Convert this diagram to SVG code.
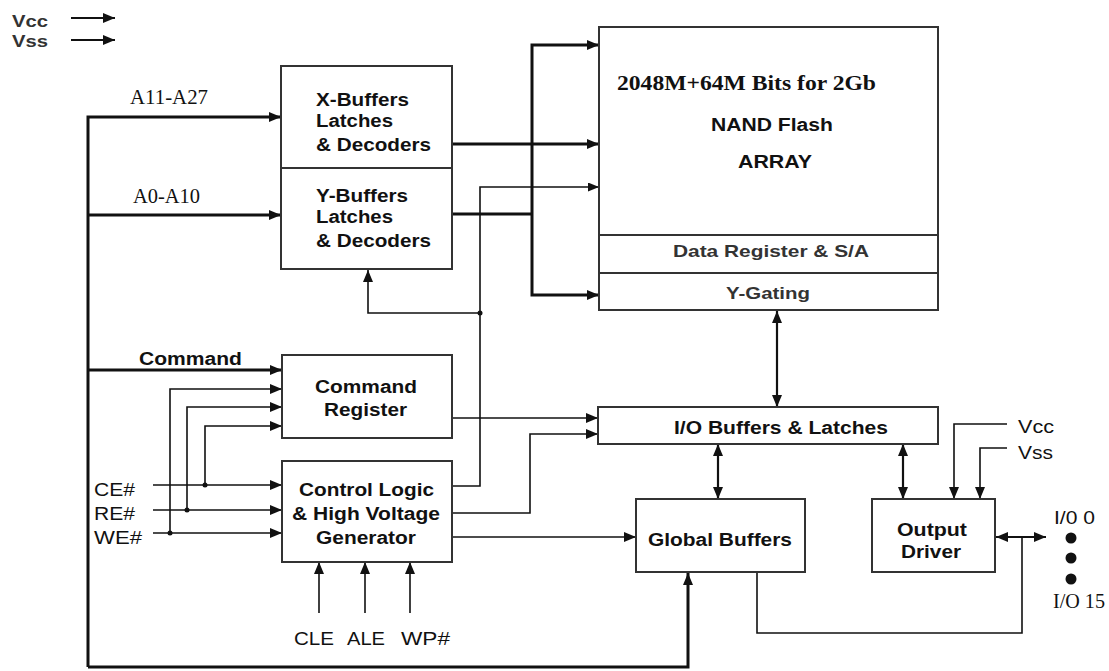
<svg xmlns="http://www.w3.org/2000/svg" width="1109" height="671" viewBox="0 0 1109 671">
<defs>
<style>
.box{fill:#fff;stroke:#333;stroke-width:2}
.sep{stroke:#333;stroke-width:2;fill:none}
.thick{stroke:#111;stroke-width:3;fill:none}
.thin{stroke:#111;stroke-width:1.6;fill:none}
.mid{stroke:#111;stroke-width:2.2;fill:none}
.b{font-family:"Liberation Sans",Arial,sans-serif;font-weight:bold;font-size:18px;fill:#111}
.g{font-family:"Liberation Sans",Arial,sans-serif;font-weight:bold;font-size:17px;fill:#333}
.r{font-family:"Liberation Sans",Arial,sans-serif;font-size:19px;fill:#111}
.s{font-family:"Liberation Serif","Times New Roman",serif;font-size:21px;fill:#111}
.sb{font-family:"Liberation Serif","Times New Roman",serif;font-weight:bold;font-size:22px;fill:#111}
.c{text-anchor:middle}
</style>
<marker id="ah" markerUnits="userSpaceOnUse" markerWidth="12" markerHeight="10" refX="12" refY="5" orient="auto-start-reverse"><path d="M0,0 L12,5 L0,10 z" fill="#111"/></marker>
<marker id="as" markerUnits="userSpaceOnUse" markerWidth="11" markerHeight="9" refX="11" refY="4.5" orient="auto-start-reverse"><path d="M0,0 L11,4.5 L0,9 z" fill="#111"/></marker>
</defs>
<rect width="1109" height="671" fill="#fff"/>

<g id="power-legend">
<text x="12" y="27" class="g" fill="#444" textLength="36" lengthAdjust="spacingAndGlyphs">Vcc</text>
<text x="12" y="47" class="g" fill="#444" textLength="36" lengthAdjust="spacingAndGlyphs">Vss</text>
</g>

<g id="connectors">
<path class="mid" d="M71,18 H115" marker-end="url(#ah)"/>
<path class="mid" d="M71,40 H115" marker-end="url(#ah)"/>
<path class="thick" d="M88,667 V117 H281" marker-end="url(#ah)"/>
<path class="thick" d="M88,215 H281" marker-end="url(#ah)"/>
<path class="thick" d="M88,370 H282" marker-end="url(#ah)"/>
<path class="thick" d="M88,667 H688 V573" marker-end="url(#ah)"/>
<path class="thick" d="M452,144 H599" marker-end="url(#ah)"/>
<path class="thick" d="M599,45 H532 V295 H599" marker-start="url(#ah)" marker-end="url(#ah)"/>
<path class="thick" d="M452,214 H532"/>
<path class="thin" d="M452,486 H480 V187 H599" marker-end="url(#as)"/>
<path class="thin" d="M480,313 H368 V270" marker-end="url(#ah)"/>
<circle cx="480" cy="313" r="2.5" fill="#111"/>
<path class="thin" d="M452,418 H598" marker-end="url(#ah)"/>
<path class="thin" d="M452,513 H530 V434 H598" marker-end="url(#ah)"/>
<path class="thin" d="M452,537 H636" marker-end="url(#ah)"/>
<path class="thin" d="M153,485 H282" marker-end="url(#ah)"/>
<path class="thin" d="M153,510 H282" marker-end="url(#ah)"/>
<path class="thin" d="M153,533 H282" marker-end="url(#ah)"/>
<path class="thin" d="M205,485 V426 H282" marker-end="url(#ah)"/>
<path class="thin" d="M187,510 V407 H282" marker-end="url(#ah)"/>
<path class="thin" d="M170,533 V389 H282" marker-end="url(#ah)"/>
<circle cx="205" cy="485" r="2.5" fill="#111"/>
<circle cx="187" cy="510" r="2.5" fill="#111"/>
<circle cx="170" cy="533" r="2.5" fill="#111"/>
<path class="thin" d="M319,613 V562" marker-end="url(#ah)"/>
<path class="thin" d="M365,613 V562" marker-end="url(#ah)"/>
<path class="thin" d="M410,613 V562" marker-end="url(#ah)"/>
<path class="mid" d="M777,311 V407" marker-start="url(#ah)" marker-end="url(#ah)"/>
<path class="mid" d="M718,444 V499" marker-start="url(#ah)" marker-end="url(#ah)"/>
<path class="mid" d="M903,444 V499" marker-start="url(#ah)" marker-end="url(#ah)"/>
<path class="thin" d="M1007,424 H954 V499" marker-end="url(#ah)"/>
<path class="thin" d="M1007,448 H980 V499" marker-end="url(#ah)"/>
<path class="mid" d="M996,537 H1046" marker-start="url(#ah)" marker-end="url(#ah)"/>
<path class="thin" d="M757,573 V633 H1022 V537"/>
</g>

<g id="nand-array">
<rect class="box" x="599" y="27" width="339" height="283"/>
<path class="sep" d="M599,235 H938 M599,273 H938"/>
<text x="617" y="90" class="sb" textLength="259" lengthAdjust="spacingAndGlyphs">2048M+64M Bits for 2Gb</text>
<text x="711" y="131" class="b" font-size="20" textLength="122" lengthAdjust="spacingAndGlyphs">NAND Flash</text>
<text x="738" y="168" class="b" font-size="20" textLength="74" lengthAdjust="spacingAndGlyphs">ARRAY</text>
<text x="673" y="257" class="g" textLength="196" lengthAdjust="spacingAndGlyphs">Data Register &amp; S/A</text>
<text x="726" y="299" class="g" textLength="84" lengthAdjust="spacingAndGlyphs">Y-Gating</text>
</g>

<g id="xy-buffers">
<rect class="box" x="281" y="66" width="171" height="203"/>
<path class="sep" d="M281,168 H452"/>
<text x="316" y="106" class="b" textLength="93" lengthAdjust="spacingAndGlyphs">X-Buffers</text>
<text x="316" y="127" class="b" textLength="77" lengthAdjust="spacingAndGlyphs">Latches</text>
<text x="316" y="151" class="b" textLength="115" lengthAdjust="spacingAndGlyphs">&amp; Decoders</text>
<text x="316" y="202" class="b" textLength="92" lengthAdjust="spacingAndGlyphs">Y-Buffers</text>
<text x="316" y="223" class="b" textLength="77" lengthAdjust="spacingAndGlyphs">Latches</text>
<text x="316" y="247" class="b" textLength="115" lengthAdjust="spacingAndGlyphs">&amp; Decoders</text>
</g>

<g id="address-labels">
<text x="130" y="104" class="s" textLength="78" lengthAdjust="spacingAndGlyphs">A11-A27</text>
<text x="133" y="203" class="s" textLength="67" lengthAdjust="spacingAndGlyphs">A0-A10</text>
<text x="139" y="365" class="b" textLength="103" lengthAdjust="spacingAndGlyphs">Command</text>
</g>

<g id="command-register">
<rect class="box" x="282" y="355" width="170" height="83"/>
<text x="315" y="393" class="b" textLength="102" lengthAdjust="spacingAndGlyphs">Command</text>
<text x="324" y="416" class="b" textLength="83" lengthAdjust="spacingAndGlyphs">Register</text>
</g>

<g id="control-logic">
<rect class="box" x="282" y="461" width="170" height="101"/>
<text x="299" y="496" class="b" textLength="135" lengthAdjust="spacingAndGlyphs">Control Logic</text>
<text x="292" y="520" class="b" textLength="148" lengthAdjust="spacingAndGlyphs">&amp; High Voltage</text>
<text x="316" y="544" class="b" textLength="100" lengthAdjust="spacingAndGlyphs">Generator</text>
</g>

<g id="control-signals">
<text x="94" y="496" class="r" textLength="41" lengthAdjust="spacingAndGlyphs">CE#</text>
<text x="94" y="520" class="r" textLength="41" lengthAdjust="spacingAndGlyphs">RE#</text>
<text x="94" y="544" class="r" textLength="48" lengthAdjust="spacingAndGlyphs">WE#</text>
<text x="294" y="645" class="r" textLength="40" lengthAdjust="spacingAndGlyphs">CLE</text>
<text x="347" y="645" class="r" textLength="38" lengthAdjust="spacingAndGlyphs">ALE</text>
<text x="401" y="645" class="r" textLength="49" lengthAdjust="spacingAndGlyphs">WP#</text>
</g>

<g id="io-buffers">
<rect class="box" x="598" y="407" width="340" height="37"/>
<text x="674" y="434" class="b" textLength="214" lengthAdjust="spacingAndGlyphs">I/O Buffers &amp; Latches</text>
</g>

<g id="global-buffers">
<rect class="box" x="636" y="499" width="169" height="73"/>
<text x="648" y="546" class="b" textLength="144" lengthAdjust="spacingAndGlyphs">Global Buffers</text>
</g>

<g id="output-driver">
<rect class="box" x="872" y="499" width="123" height="73"/>
<text x="897" y="536" class="b" textLength="70" lengthAdjust="spacingAndGlyphs">Output</text>
<text x="901" y="558" class="b" textLength="60" lengthAdjust="spacingAndGlyphs">Driver</text>
<text x="1018" y="433" class="r" textLength="36" lengthAdjust="spacingAndGlyphs">Vcc</text>
<text x="1018" y="459" class="r" textLength="35" lengthAdjust="spacingAndGlyphs">Vss</text>
</g>

<g id="io-pins">
<text x="1054" y="524" class="r" font-size="18" textLength="41" lengthAdjust="spacingAndGlyphs">I/0 0</text>
<circle cx="1071" cy="538" r="5.5" fill="#111"/>
<circle cx="1071" cy="558" r="5.5" fill="#111"/>
<circle cx="1071" cy="579" r="5.5" fill="#111"/>
<text x="1053" y="608" class="s" font-size="18" textLength="52" lengthAdjust="spacingAndGlyphs">I/O 15</text>
</g>
</svg>
